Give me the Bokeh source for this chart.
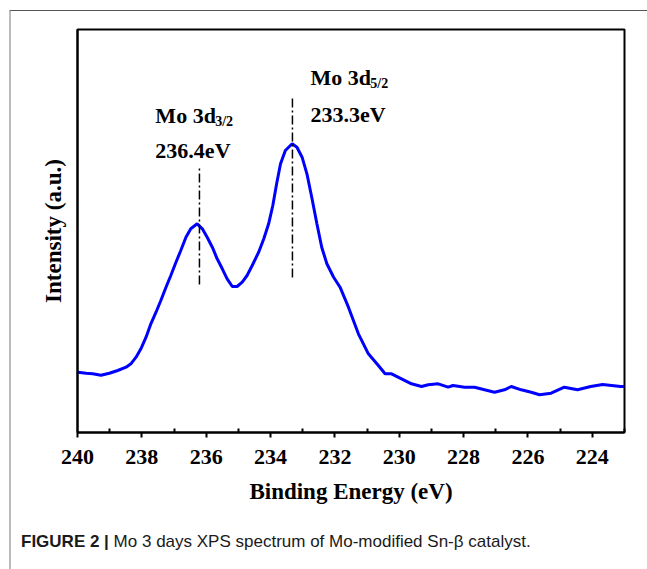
from bokeh.plotting import figure
from bokeh.models import Label, FixedTicker, Range1d, Div
from bokeh.layouts import column
from bokeh.embed import file_html
from bokeh.resources import INLINE

# Binding energy (eV) and intensity (a.u.)
energy = [239.99, 239.73, 239.53, 239.27, 239.01, 238.75, 238.49, 238.34, 238.18, 238.03,
          237.87, 237.72, 237.56, 237.41, 237.25, 237.10, 236.94, 236.79, 236.63, 236.48,
          236.28, 236.12, 235.97, 235.81, 235.66, 235.50, 235.35, 235.19, 235.04, 234.88,
          234.73, 234.57, 234.37, 234.21, 234.06, 233.93, 233.81, 233.69, 233.54, 233.33,
          233.18, 233.02, 232.87, 232.72, 232.56, 232.41, 232.25, 232.04, 231.84, 231.58,
          231.27, 230.96, 230.65, 230.44, 230.24, 229.93, 229.62, 229.31, 229.10, 228.79,
          228.48, 228.33, 227.97, 227.66, 227.35, 227.04, 226.73, 226.52, 226.21, 225.90,
          225.64, 225.28, 224.87, 224.46, 224.05, 223.68, 223.12, 223.00]
intensity = [55.3, 54.3, 53.7, 52.3, 54.3, 57.0, 60.3, 63.7, 70.3, 78.7,
             90.3, 103.7, 115.3, 127.0, 140.3, 152.0, 165.3, 177.0, 190.3, 198.7,
             203.7, 198.7, 190.3, 180.3, 168.7, 158.7, 148.7, 141.0, 141.0, 145.3,
             152.0, 162.0, 175.3, 188.7, 203.7, 222.0, 244.0, 263.7, 277.0, 283.7,
             280.3, 270.3, 253.7, 230.3, 203.7, 180.3, 163.7, 150.3, 140.3, 120.3,
             93.7, 73.7, 62.0, 53.7, 53.7, 48.7, 43.7, 41.0, 42.7, 43.7,
             40.3, 42.0, 40.3, 40.3, 37.7, 35.3, 37.7, 41.0, 37.7, 35.3,
             32.7, 34.3, 40.3, 37.7, 41.0, 43.0, 41.0, 41.0]

tick_values = [240, 238, 236, 234, 232, 230, 228, 226, 224]
minor_values = [239, 237, 235, 233, 231, 229, 227, 225, 223]

peak_lines_x = [236.21, 233.32]
peak_lines_y0 = [143, 150]
peak_lines_y1 = [262, 329]

SERIF = "Liberation Serif"

p = figure(width=636, height=510, output_backend="svg", toolbar_location=None,
           x_range=Range1d(240, 223), y_range=Range1d(-5, 398),
           min_border_left=66, min_border_right=23, min_border_top=18, min_border_bottom=89)
p.background_fill_color = "white"
p.border_fill_color = "white"
p.outline_line_color = "black"
p.outline_line_width = 2
p.xgrid.visible = False
p.ygrid.visible = False

xa = p.xaxis[0]
xa.ticker = FixedTicker(ticks=tick_values, minor_ticks=minor_values)
xa.axis_line_width = 2
xa.major_tick_line_width = 2
xa.minor_tick_line_width = 2
xa.major_tick_in = 0
xa.major_tick_out = 5
xa.minor_tick_in = 4
xa.minor_tick_out = 0
xa.major_label_text_font = SERIF
xa.major_label_text_font_style = "bold"
xa.major_label_text_font_size = "22px"
xa.major_label_text_color = "black"
xa.major_label_standoff = 12
xa.axis_label = "Binding Energy (eV)"
xa.axis_label_text_font = SERIF
xa.axis_label_text_font_style = "bold"
xa.axis_label_text_font_size = "23px"
xa.axis_label_text_color = "black"
xa.axis_label_standoff = 12

ya = p.yaxis[0]
ya.ticker = FixedTicker(ticks=[])
ya.axis_line_width = 2
ya.major_tick_out = 0
ya.major_tick_in = 0
ya.minor_tick_out = 0
ya.minor_tick_in = 0
ya.axis_label = "Intensity (a.u.)"
ya.axis_label_text_font = SERIF
ya.axis_label_text_font_style = "bold"
ya.axis_label_text_font_size = "23px"
ya.axis_label_text_color = "black"
ya.axis_label_standoff = 12

p.line(energy, intensity, line_color="#0000ff", line_width=3)

p.segment(x0=peak_lines_x, y0=peak_lines_y0, x1=peak_lines_x, y1=peak_lines_y1,
          line_color="black", line_width=1.5, line_dash="9 3 2 3")

def lab(x, y, t, size):
    p.add_layout(Label(x=x, y=y, text=t, text_font=SERIF, text_font_size=size,
                       text_font_style="bold", text_baseline="alphabetic",
                       text_align="left", text_color="black"))

lab(237.58, 312, "Mo 3d", "22px")
lab(235.72, 306, "3/2", "14px")
lab(237.58, 277, "236.4eV", "22px")
lab(232.76, 350, "Mo 3d", "22px")
lab(230.90, 344, "5/2", "14px")
lab(232.76, 313, "233.3eV", "22px")

caption = Div(
    text="<b>FIGURE 2 |</b> Mo 3 days XPS spectrum of Mo-modified Sn-\u03b2 catalyst.",
    width=636, height=48,
    styles={"font-family": "'Liberation Sans', Arial, sans-serif", "font-size": "17px",
            "color": "#1a1a1a", "padding-left": "5px", "padding-top": "4px",
            "box-sizing": "border-box"})

root = column(p, caption, spacing=0,
              styles={"margin-left": "9px", "margin-top": "10px",
                      "border-top": "1px solid #555555", "border-left": "2px solid #bbbbbb"})

open("out.html", "w").write(file_html(root, INLINE))
